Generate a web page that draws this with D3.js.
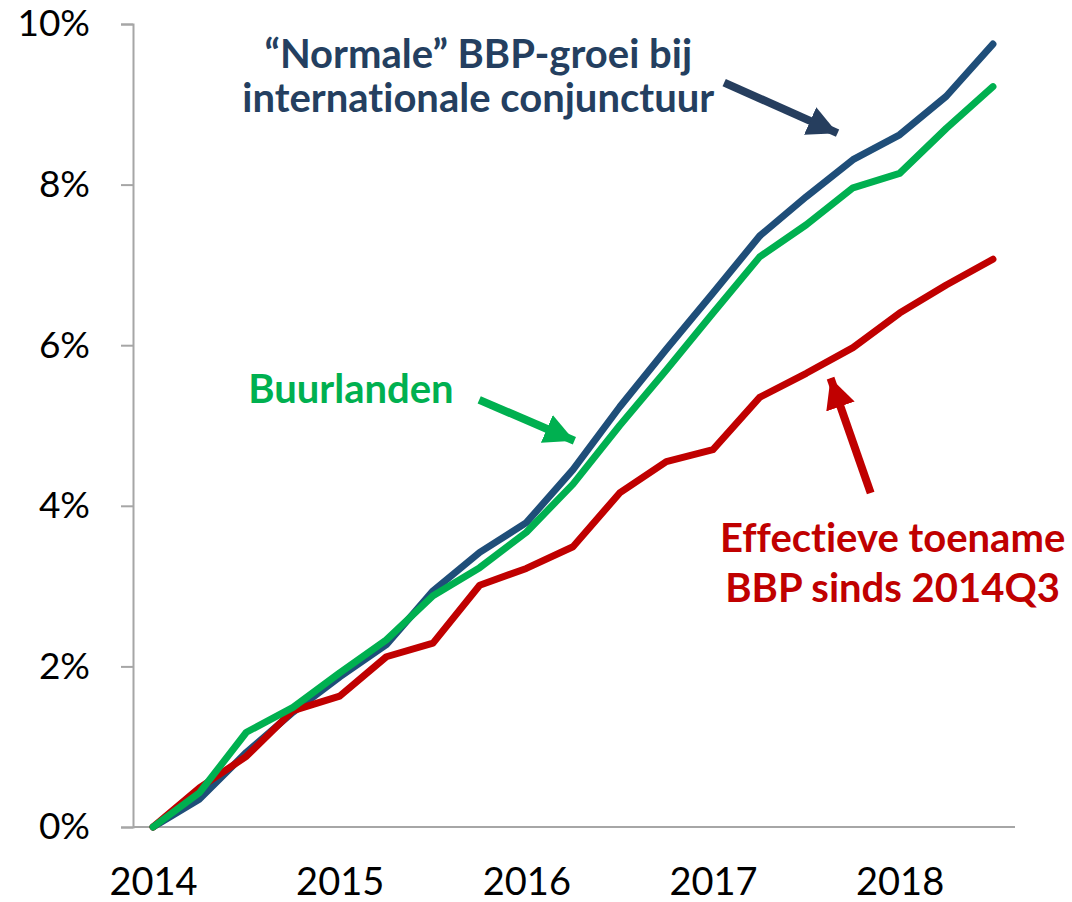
<!DOCTYPE html>
<html>
<head>
<meta charset="utf-8">
<script src="https://cdn.jsdelivr.net/npm/d3@7"></script>
<style>
  body { margin: 0; background: #fff; }
  svg { display: block; }
  text { font-variant-ligatures: none; }
</style>
</head>
<body>
<svg id="chart"></svg>
<script>
// kwartalen vanaf 2014Q3
const quarters = ["2014Q3","2014Q4","2015Q1","2015Q2","2015Q3","2015Q4","2016Q1","2016Q2",
  "2016Q3","2016Q4","2017Q1","2017Q2","2017Q3","2017Q4","2018Q1","2018Q2","2018Q3","2018Q4","2019Q1"];
const yearTicks = ["2014Q3","2015Q3","2016Q3","2017Q3","2018Q3"];
const yTicks = [0, 2, 4, 6, 8, 10];

// cumulatieve groei in %
const normale = [0, 0.35, 0.93, 1.43, 1.87, 2.27, 2.94, 3.42, 3.79, 4.45, 5.23, 5.95, 6.65, 7.36, 7.85, 8.31, 8.62, 9.10, 9.75];
const buurlanden = [0, 0.43, 1.18, 1.49, 1.92, 2.33, 2.88, 3.23, 3.67, 4.27, 5.00, 5.69, 6.40, 7.10, 7.50, 7.96, 8.14, 8.70, 9.22];
const effectief = [0, 0.49, 0.88, 1.45, 1.63, 2.12, 2.29, 3.01, 3.22, 3.49, 4.16, 4.55, 4.70, 5.35, 5.65, 5.97, 6.40, 6.75, 7.07];

const width = 1072, height = 902;
const plot = { left: 133, right: 1013, top: 24, bottom: 827 };

const svg = d3.select("#chart").attr("width", width).attr("height", height);

const x = d3.scalePoint().domain(quarters).range([plot.left, plot.right]).padding(0.43);
const y = d3.scaleLinear().domain([0, 10]).range([plot.bottom, plot.top]);
// voor annotaties: positie in kwartaal-index
const xi = i => x(quarters[0]) + i * x.step();

// Sumbu Y
const yAxis = svg.append("g")
  .attr("transform", `translate(${plot.left},0)`)
  .call(d3.axisLeft(y).tickValues(yTicks).tickFormat(d => d + "%").tickSize(12).tickPadding(31));
yAxis.select(".domain").attr("stroke", "#a6a6a6").attr("stroke-width", 2);
yAxis.selectAll(".tick line").attr("stroke", "#a6a6a6").attr("stroke-width", 2);
yAxis.selectAll("text")
  .style("font-family", "Lato, sans-serif")
  .style("font-size", "37px")
  .attr("fill", "#000");

// Sumbu X
const xAxis = svg.append("g")
  .attr("transform", `translate(0,${plot.bottom})`)
  .call(d3.axisBottom(x).tickValues(yearTicks).tickFormat(d => d.slice(0, 4)).tickSize(0));
xAxis.select(".domain").remove();
xAxis.selectAll("text")
  .attr("y", 68).attr("dy", 0)
  .style("font-family", "Lato, sans-serif")
  .style("font-size", "38px")
  .attr("fill", "#000");
svg.append("line")
  .attr("x1", plot.left).attr("x2", plot.right + 2)
  .attr("y1", plot.bottom).attr("y2", plot.bottom)
  .attr("stroke", "#a6a6a6").attr("stroke-width", 2);

// Lijnen
const line = d3.line().x((d, i) => x(quarters[i])).y(d => y(d));
const series = [
  { name: "normale", values: normale, color: "#1f4e79" },
  { name: "effectief", values: effectief, color: "#c00000" },
  { name: "buurlanden", values: buurlanden, color: "#00b050" }
];
svg.selectAll(".serie")
  .data(series)
  .enter().append("path")
  .attr("class", "serie")
  .attr("d", d => line(d.values))
  .attr("fill", "none")
  .attr("stroke", d => d.color)
  .attr("stroke-width", 7)
  .attr("stroke-linejoin", "round")
  .attr("stroke-linecap", "round");

// Pijlen (in kwartaal-index / waarde)
const arrows = [
  { from: [12.24, 9.27], to: [14.67, 8.64], color: "#263e5e" },
  { from: [6.99, 5.32], to: [9.03, 4.81], color: "#00b050" },
  { from: [15.38, 4.16], to: [14.52, 5.59], color: "#c00000" }
];
const defs = svg.append("defs");
arrows.forEach((a, k) => {
  defs.append("marker")
    .attr("id", "arrow" + k)
    .attr("viewBox", "0 0 10 10")
    .attr("refX", 10).attr("refY", 5)
    .attr("markerUnits", "userSpaceOnUse")
    .attr("markerWidth", 30).attr("markerHeight", 30)
    .attr("orient", "auto")
    .append("path")
    .attr("d", "M0,0 L10,5 L0,10 Z")
    .attr("fill", a.color);
});
svg.selectAll(".pijl")
  .data(arrows)
  .enter().append("line")
  .attr("class", "pijl")
  .attr("x1", d => xi(d.from[0])).attr("y1", d => y(d.from[1]))
  .attr("x2", d => xi(d.to[0])).attr("y2", d => y(d.to[1]))
  .attr("stroke", d => d.color)
  .attr("stroke-width", 8)
  .attr("marker-end", (d, i) => `url(#arrow${i})`);

// Labels
const labels = [
  { lines: ["\u201cNormale\u201d BBP-groei bij", "internationale conjunctuur"], at: [6.97, 9.45], gap: 44, color: "#243f60" },
  { lines: ["Buurlanden"], at: [4.24, 5.28], gap: 0, color: "#00b050" },
  { lines: ["Effectieve toename", "BBP sinds 2014Q3"], at: [15.85, 3.43], gap: 50, color: "#c00000" }
];
labels.forEach(l => {
  const t = svg.append("text")
    .attr("x", xi(l.at[0]))
    .attr("y", y(l.at[1]))
    .attr("text-anchor", "middle")
    .style("font-family", "Lato, sans-serif")
    .style("font-weight", "bold")
    .style("font-size", "40px")
    .attr("fill", l.color);
  l.lines.forEach((s, i) => {
    t.append("tspan").attr("x", xi(l.at[0])).attr("dy", i === 0 ? 0 : l.gap).text(s);
  });
});
</script>
</body>
</html>
